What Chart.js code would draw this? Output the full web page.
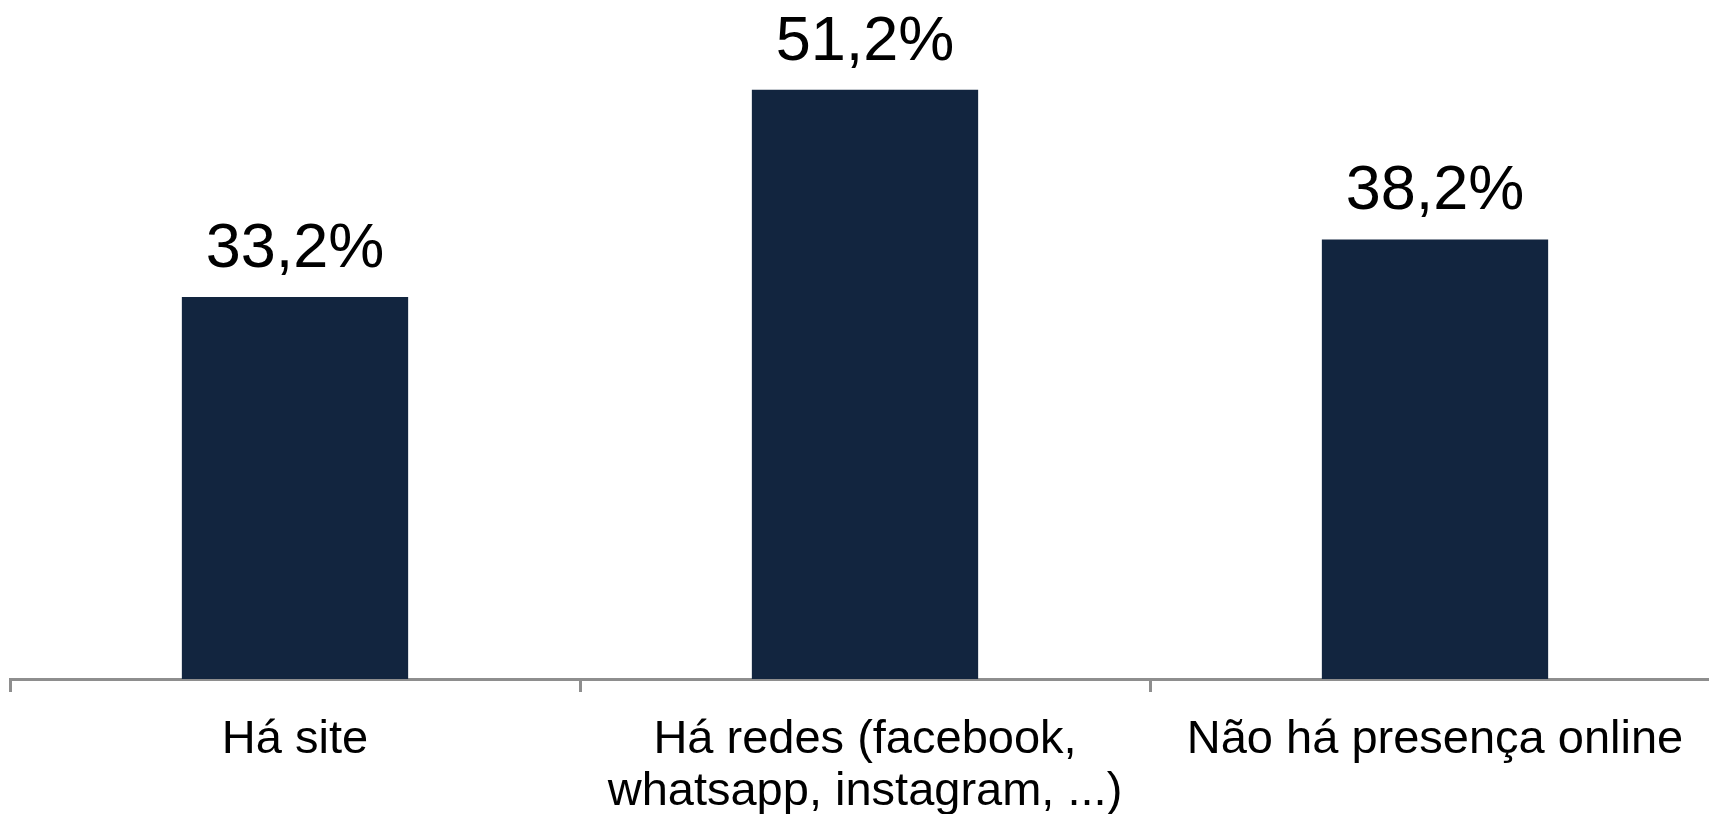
<!DOCTYPE html>
<html lang="pt-BR">
<head>
<meta charset="utf-8">
<title>Presença online</title>
<script src="https://cdn.jsdelivr.net/npm/chart.js@4.4.1/dist/chart.umd.min.js"></script>
<style>
    html, body {
        margin: 0;
        padding: 0;
        background: #ffffff;
        overflow: hidden;
    }
    #chart {
        display: block;
    }
</style>
</head>
<body>
<canvas id="chart" width="1722" height="814"></canvas>
<script>
const categories = [
    'Há site',
    ['Há redes (facebook,', 'whatsapp, instagram, ...)'],
    'Não há presença online'
];
const percentages = [33.2, 51.2, 38.2];

const BAR_COLOR = '#12253f';
const AXIS_COLOR = '#8e8e8e';
const FONT_FAMILY = '"Liberation Sans", Arial, Helvetica, sans-serif';

// Formats 51.2 as "51,2%"
function formatPercent(value) {
    return value.toFixed(1).replace('.', ',') + '%';
}

// Writes each bar's value just above it
const valueLabels = {
    id: 'valueLabels',
    afterDatasetsDraw(chart) {
        const ctx = chart.ctx;
        const meta = chart.getDatasetMeta(0);
        ctx.save();
        ctx.font = `63px ${FONT_FAMILY}`;
        ctx.fillStyle = '#000000';
        ctx.textAlign = 'center';
        ctx.textBaseline = 'alphabetic';
        meta.data.forEach((bar, i) => {
            ctx.fillText(formatPercent(percentages[i]), bar.x, bar.y - 30);
        });
        ctx.restore();
    }
};

const ctx = document.getElementById('chart').getContext('2d');

new Chart(ctx, {
    type: 'bar',
    data: {
        labels: categories,
        datasets: [{
            data: percentages,
            backgroundColor: BAR_COLOR,
            borderWidth: 0,
            categoryPercentage: 1.0,
            barPercentage: 0.397
        }]
    },
    options: {
        responsive: false,
        animation: false,
        layout: {
            padding: { left: 10, right: 2, top: 0, bottom: 0 }
        },
        plugins: {
            legend: { display: false },
            tooltip: { enabled: false }
        },
        scales: {
            x: {
                offset: true,
                afterFit(scale) {
                    scale.height = 135;
                },
                grid: {
                    offset: true,
                    drawOnChartArea: false,
                    drawTicks: true,
                    tickLength: 13,
                    color: AXIS_COLOR,
                    lineWidth: 3
                },
                border: {
                    display: true,
                    color: AXIS_COLOR,
                    width: 3
                },
                ticks: {
                    color: '#000000',
                    autoSkip: false,
                    maxRotation: 0,
                    minRotation: 0,
                    padding: 22,
                    font: {
                        family: FONT_FAMILY,
                        size: 47,
                        lineHeight: 1.1
                    }
                }
            },
            y: {
                display: false,
                min: 0,
                max: 59
            }
        }
    },
    plugins: [valueLabels]
});
</script>
</body>
</html>
